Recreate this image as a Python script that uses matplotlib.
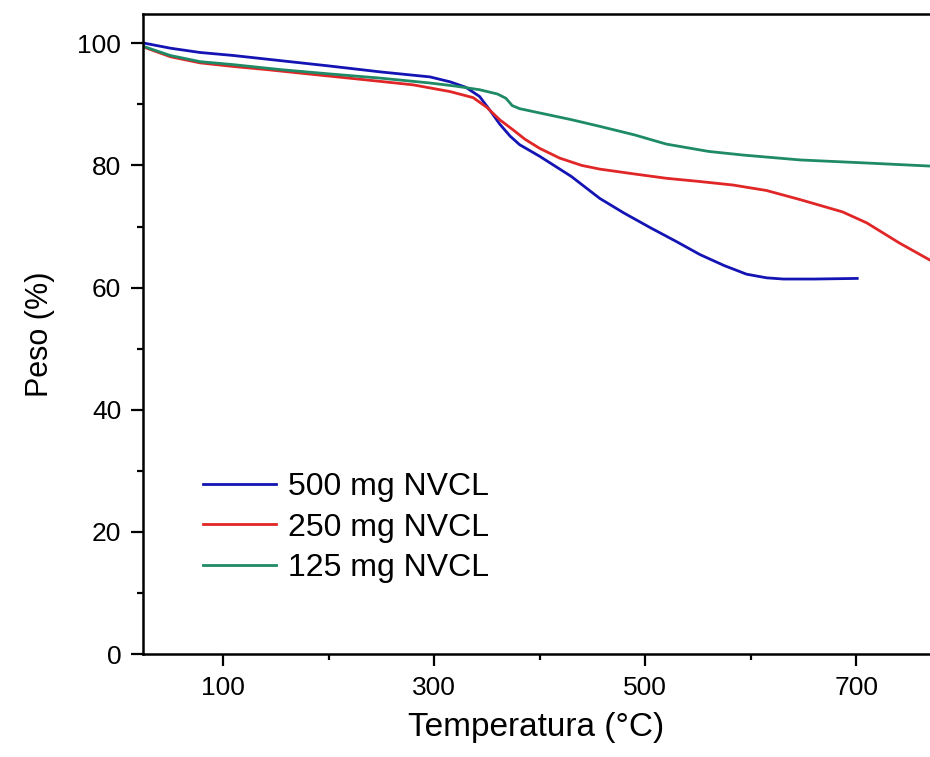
import numpy as np
import matplotlib
matplotlib.use("Agg")
import matplotlib.pyplot as plt
from matplotlib.ticker import MultipleLocator, FixedLocator

plt.rcParams['font.family'] = ['Liberation Sans', 'DejaVu Sans']

# TGA curves, temperature (°C) vs remaining mass (%)
temp_500 = [26, 50, 78, 110, 147, 200, 250, 296, 315, 330, 343, 353, 362, 372, 381,
            400, 430, 457, 480, 505, 530, 552, 575, 596, 615, 631, 660, 701]
peso_500 = [100.0, 99.2, 98.5, 98.0, 97.3, 96.3, 95.3, 94.5, 93.7, 92.8, 91.3, 89.0, 86.8, 84.8, 83.4,
            81.5, 78.2, 74.6, 72.2, 69.8, 67.5, 65.4, 63.6, 62.2, 61.6, 61.4, 61.4, 61.5]

temp_250 = [26, 50, 78, 110, 141, 180, 236, 280, 315, 337, 350, 362, 375, 386, 400,
            419, 440, 457, 490, 520, 550, 583, 615, 647, 687, 710, 741, 770]
peso_250 = [99.3, 97.8, 96.8, 96.2, 95.7, 95.0, 94.0, 93.2, 92.1, 91.1, 89.5, 87.5, 85.8, 84.3, 82.8,
            81.2, 80.0, 79.4, 78.6, 77.9, 77.4, 76.8, 75.9, 74.4, 72.4, 70.6, 67.3, 64.5]

temp_125 = [26, 50, 78, 110, 154, 200, 249, 296, 320, 343, 360, 368, 374, 381, 400,
            430, 457, 490, 520, 560, 593, 647, 710, 770]
peso_125 = [99.4, 98.0, 97.0, 96.5, 95.7, 95.0, 94.3, 93.5, 93.0, 92.4, 91.7, 91.0, 89.8, 89.3, 88.6,
            87.5, 86.4, 85.0, 83.5, 82.3, 81.7, 80.9, 80.4, 79.9]

labels = ['500 mg NVCL', '250 mg NVCL', '125 mg NVCL']
colors = ['#1414b4', '#e02626', '#1f8a66']

fig = plt.figure(figsize=(9.30, 7.57), dpi=100)
ax = fig.add_axes([143 / 930, 103 / 757, 1 - 143 / 930, (654 - 14) / 757])

for t, p, lab, c in zip([temp_500, temp_250, temp_125],
                        [peso_500, peso_250, peso_125], labels, colors):
    ax.plot(t, p, color=c, lw=2.0, label=lab)

ax.set_xlim(24, 770)
ax.set_ylim(0, 104.8)
ax.xaxis.set_major_locator(FixedLocator([100, 300, 500, 700]))
ax.xaxis.set_minor_locator(FixedLocator([200, 400, 600]))
ax.yaxis.set_major_locator(MultipleLocator(20))
ax.yaxis.set_minor_locator(MultipleLocator(10))

ax.spines['right'].set_visible(False)
for s in ['left', 'bottom', 'top']:
    ax.spines[s].set_linewidth(1.8)
ax.tick_params(which='major', direction='out', length=8.6, width=1.6,
               labelsize=19, pad=7)
ax.tick_params(which='minor', direction='out', length=4.3, width=1.6)

ax.set_xlabel('Temperatura (°C)', fontsize=24, labelpad=9)
ax.set_ylabel('Peso (%)', fontsize=22, labelpad=16)

ax.legend(loc='upper left', bbox_to_anchor=(203 / 930, 1 - 472 / 757),
          bbox_transform=fig.transFigure, frameon=False, fontsize=23,
          handlelength=2.3, handletextpad=0.35, labelspacing=0.33,
          borderpad=0, borderaxespad=0)

fig.savefig('out.png', dpi=100)
